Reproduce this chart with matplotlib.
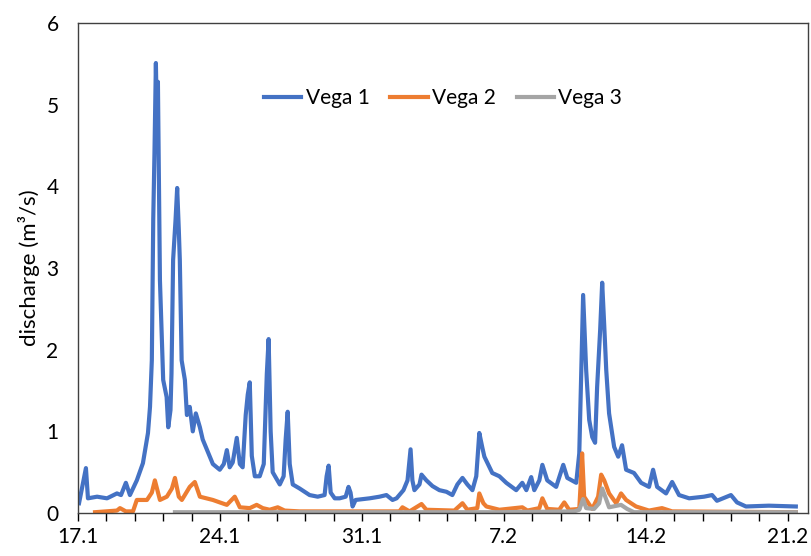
import numpy as np
import matplotlib
matplotlib.use("Agg")
import matplotlib.pyplot as plt
from matplotlib.ticker import MultipleLocator

plt.rcParams['font.family'] = ['Lato', 'DejaVu Sans']

# days after 17.1, discharge in m3/s
vega1_days = [0.05, 0.39, 0.49, 0.94, 1.43, 1.92, 2.12, 2.36, 2.56, 2.90, 3.20, 3.45,
              3.55, 3.64, 3.71, 3.77, 3.84, 3.89, 3.94, 3.99, 4.04, 4.12, 4.20, 4.37,
              4.45, 4.56, 4.61, 4.69, 4.81, 4.89, 4.97, 5.02, 5.11, 5.27, 5.37, 5.51,
              5.66, 5.81, 6.01, 6.15, 6.40, 6.65, 6.99, 7.19, 7.34, 7.48, 7.63, 7.83,
              7.98, 8.12, 8.27, 8.37, 8.47, 8.57, 8.72, 8.96, 9.16, 9.31, 9.40, 9.50,
              9.60, 9.95, 10.14, 10.24, 10.34, 10.44, 10.59, 10.93, 11.42, 11.82, 12.16,
              12.26, 12.36, 12.46, 12.66, 12.90, 13.20, 13.34, 13.44, 13.54, 13.69,
              14.38, 14.87, 15.21, 15.51, 15.71, 16.05, 16.25, 16.40, 16.49, 16.59,
              16.84, 16.94, 17.18, 17.48, 17.82, 18.17, 18.46, 18.71, 18.96, 19.20,
              19.45, 19.64, 19.79, 19.94, 20.04, 20.43, 20.78, 21.12, 21.61, 21.91,
              22.11, 22.35, 22.50, 22.75, 22.90, 23.14, 23.58, 23.93, 24.13, 24.57,
              24.72, 24.82, 24.91, 25.06, 25.21, 25.36, 25.50, 25.60, 25.75, 25.85,
              25.95, 26.05, 26.19, 26.44, 26.64, 26.83, 27.03, 27.42, 27.77, 28.16,
              28.36, 28.56, 29.00, 29.30, 29.64, 30.14, 30.87, 31.27, 31.51, 32.20,
              32.50, 32.94, 34.07, 35.40]
vega1_q = [0.12, 0.55, 0.18, 0.20, 0.18, 0.24, 0.22, 0.37, 0.22, 0.40, 0.61, 0.98,
           1.30, 1.87, 3.60, 4.40, 5.51, 4.80, 5.28, 4.10, 2.85, 2.24, 1.63, 1.42,
           1.05, 1.26, 1.71, 3.10, 3.59, 3.98, 3.47, 3.10, 1.87, 1.63, 1.20, 1.30,
           1.00, 1.22, 1.05, 0.90, 0.75, 0.60, 0.53, 0.60, 0.77, 0.56, 0.62, 0.92,
           0.60, 0.56, 1.20, 1.45, 1.60, 0.70, 0.45, 0.45, 0.60, 1.70, 2.13, 1.00,
           0.50, 0.35, 0.45, 0.90, 1.24, 0.60, 0.35, 0.30, 0.22, 0.20, 0.22,
           0.45, 0.58, 0.25, 0.18, 0.18, 0.20, 0.32, 0.25, 0.08, 0.16,
           0.18, 0.20, 0.22, 0.16, 0.18, 0.28, 0.40, 0.78, 0.40, 0.28,
           0.35, 0.47, 0.40, 0.33, 0.28, 0.26, 0.22, 0.35, 0.43, 0.35,
           0.28, 0.45, 0.98, 0.80, 0.69, 0.49, 0.45, 0.37, 0.28, 0.37,
           0.28, 0.44, 0.28, 0.40, 0.59, 0.40, 0.32, 0.59, 0.43, 0.37,
           0.73, 1.75, 2.67, 1.75, 1.14, 0.93, 0.86, 1.54, 2.24, 2.82,
           2.30, 1.75, 1.22, 0.81, 0.69, 0.83, 0.53, 0.49, 0.37, 0.32,
           0.53, 0.32, 0.24, 0.38, 0.22, 0.18, 0.20, 0.22, 0.15, 0.22,
           0.13, 0.08, 0.09, 0.08]

vega2_days = [0.84, 1.92, 2.07, 2.36, 2.71, 2.90, 3.40, 3.64, 3.79, 4.04, 4.38, 4.63,
              4.78, 4.97, 5.12, 5.51, 5.76, 6.01, 6.65, 6.99, 7.34, 7.73, 7.98, 8.47,
              8.81, 9.11, 9.45, 9.85, 10.19, 10.93, 15.85, 16.00, 16.35, 16.94, 17.18,
              18.56, 18.96, 19.20, 19.69, 19.79, 19.99, 20.14, 20.78, 21.91, 22.16,
              22.75, 22.90, 23.14, 23.73, 23.98, 24.22, 24.72, 24.82, 24.86, 24.96,
              25.36, 25.65, 25.80, 25.95, 26.19, 26.54, 26.78, 27.03, 27.52, 28.16,
              28.80, 29.30, 35.40]
vega2_q = [0.01, 0.03, 0.06, 0.02, 0.02, 0.16, 0.16, 0.25, 0.40, 0.16, 0.20, 0.30,
           0.43, 0.20, 0.16, 0.32, 0.38, 0.20, 0.16, 0.13, 0.10, 0.20, 0.07, 0.06,
           0.10, 0.06, 0.04, 0.07, 0.03, 0.02, 0.02, 0.07, 0.02, 0.11, 0.04,
           0.03, 0.12, 0.04, 0.06, 0.24, 0.12, 0.08, 0.04, 0.07, 0.03,
           0.06, 0.18, 0.05, 0.04, 0.13, 0.04, 0.05, 0.50, 0.73, 0.20,
           0.05, 0.20, 0.47, 0.40, 0.24, 0.12, 0.24, 0.16, 0.08, 0.03,
           0.06, 0.02, 0.01]

vega3_days = [4.78, 20.78, 24.47, 24.72, 24.91, 25.06, 25.45, 25.70, 25.85, 26.00,
              26.19, 26.78, 27.08, 27.42, 35.40]
vega3_q = [0.01, 0.01, 0.02, 0.04, 0.17, 0.06, 0.05, 0.12, 0.30, 0.20,
           0.07, 0.10, 0.05, 0.01, 0.01]

tick_days = [0, 7, 14, 21, 28, 35]
tick_labels = ["17.1", "24.1", "31.1", "7.2", "14.2", "21.2"]

fig = plt.figure(figsize=(8.11, 5.56), dpi=100)
ax = fig.add_axes([0.0962, 0.0773, 0.9001, 0.8813])

ax.plot(vega1_days, vega1_q, color="#4472C4", lw=3, label="Vega 1")
ax.plot(vega2_days, vega2_q, color="#ED7D31", lw=3, label="Vega 2")
ax.plot(vega3_days, vega3_q, color="#A5A5A5", lw=3, label="Vega 3")

ax.set_xlim(0, 36)
ax.set_ylim(0, 6)
ax.set_xticks(tick_days)
ax.set_xticklabels(tick_labels)
ax.xaxis.set_minor_locator(MultipleLocator(1.4))
ax.tick_params(axis="x", which="both", direction="out", length=6, width=1, labelsize=15, pad=4)
ax.tick_params(axis="y", length=0, labelsize=15, pad=14)
ax.set_ylabel("discharge (m³/s)", fontsize=16, labelpad=5)

for s in ax.spines.values():
    s.set_linewidth(1)
    s.set_color("#404040")

ax.legend(loc="center", bbox_to_anchor=(0.5, 0.847), ncol=3, frameon=False,
          fontsize=15, handlelength=1.8, handletextpad=0.2, columnspacing=1.0)

fig.savefig("out.png", dpi=100)
